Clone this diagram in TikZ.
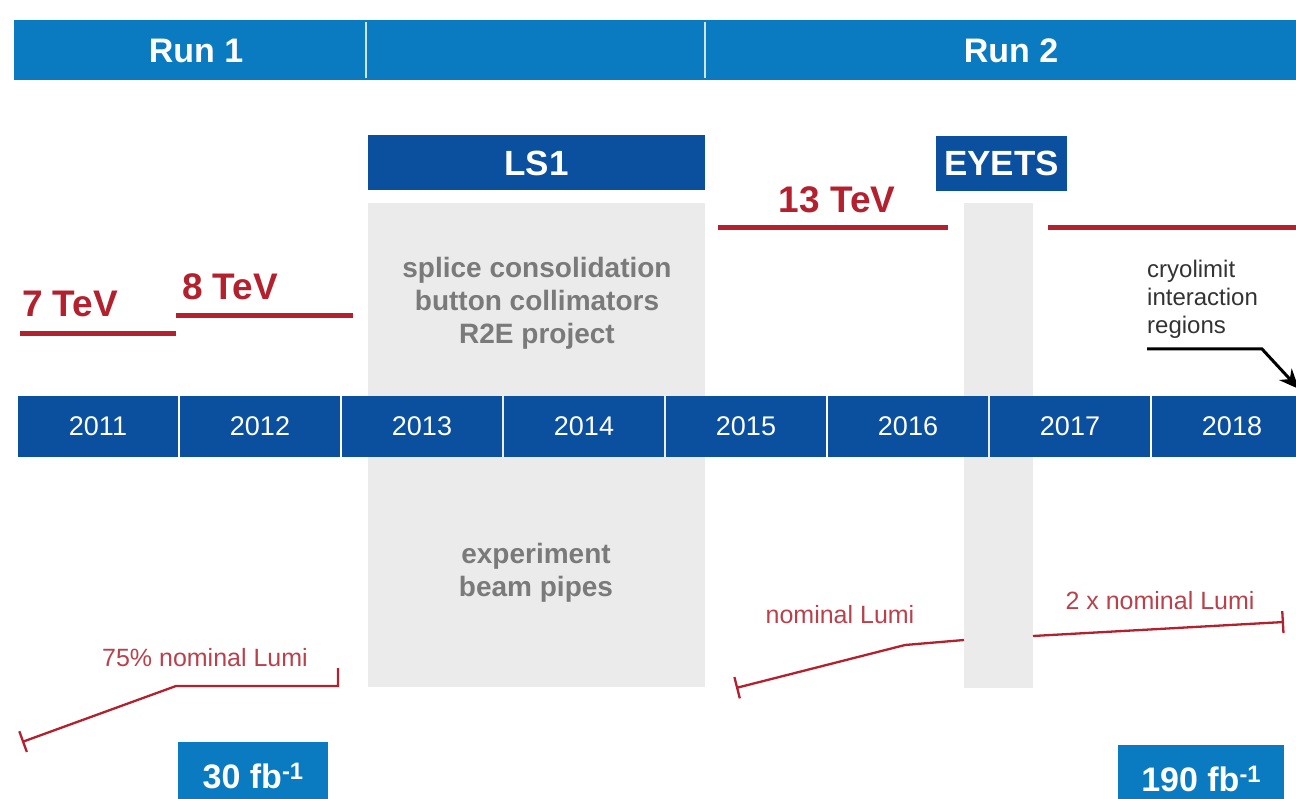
\documentclass[tikz,border=0pt]{standalone}
\usepackage{fontspec}
\setmainfont{Liberation Sans}
\usepackage{tikz}
\usetikzlibrary{positioning,calc,arrows.meta}
\definecolor{runc}{HTML}{0A7BC1}
\definecolor{yearc}{HTML}{0B4F9F}
\definecolor{tevc}{HTML}{B3202E}
\definecolor{lumic}{HTML}{B8414C}
\definecolor{shutc}{HTML}{EBEBEB}
\definecolor{notec}{HTML}{7A7A7A}

\begin{document}
\begin{tikzpicture}[x=1pt, y=-1pt, inner sep=0pt,
    yearbox/.style={fill=yearc, text=white, minimum width=160pt, minimum height=61pt, font=\fontsize{27}{27}\selectfont},
    runlabel/.style={text=white, font=\fontsize{34}{34}\selectfont\bfseries},
    stopbox/.style={fill=yearc, text=white, minimum height=55pt, font=\fontsize{35}{35}\selectfont\bfseries},
    tevlabel/.style={text=tevc, font=\fontsize{37}{37}\selectfont\bfseries},
    tevline/.style={tevc, line width=5pt},
    worklabel/.style={text=notec, align=center, font=\fontsize{28}{33}\selectfont\bfseries},
    lumilabel/.style={text=lumic, font=\fontsize{25}{25}\selectfont},
    lumiline/.style={tevc, line width=2.3pt},
    fbbox/.style={fill=runc, text=white, anchor=north west, minimum height=68pt, font=\fontsize{34}{34}\selectfont\bfseries}]
  \useasboundingbox (0,0) rectangle (1296,799);
  % run bar
  \fill[runc] (14,20) rectangle (1310,80);
  \draw[white!80!runc, line width=1.5pt] (366,22) -- (366,78) (705,22) -- (705,78);
  \node[runlabel] (run1) at (196,51) {Run 1};
  \node[runlabel] (run2) at (1011,51) {Run 2};
  % shutdown periods
  \fill[shutc] (368,203) rectangle (705,687);
  \fill[shutc] (964,203) rectangle (1033,688);
  \node[stopbox, minimum width=337pt] (ls1) at (536.5,163) {LS1};
  \node[stopbox, minimum width=131pt] (eyets) at (1001.5,163.5) {EYETS};
  \node[worklabel] (ls1work) at (537,303) {splice consolidation\\button collimators\\R2E project};
  \node[worklabel] (ls1exp) at (536,573) {experiment\\beam pipes};
  % years
  \foreach \i/\y in {0/2011,1/2012,2/2013,3/2014,4/2015,5/2016,6/2017,7/2018}
     \node[yearbox] (y\y) at (98+162*\i,426.5) {\y};
  % beam energies
  \node[tevlabel] (tev7) at (70,304) {7 TeV};
  \node[tevlabel] (tev8) at (230,287) {8 TeV};
  \node[tevlabel] (tev13) at (837,200) {13 TeV};
  \draw[tevline] (20,334) -- (176,334);
  \draw[tevline] (176,316) -- (353,316);
  \draw[tevline] (718,228) -- (948,228);
  \draw[tevline] (1048,228) -- (1300,228);
  % luminosity
  \node[lumilabel] (lumi75) at (205,658) {75\% nominal Lumi};
  \node[lumilabel] (lumi1) at (840,615) {nominal Lumi};
  \node[lumilabel] (lumi2) at (1160,601) {2 x nominal Lumi};
  \coordinate (l75a) at (22,742);
  \coordinate (l75b) at (176,686);
  \coordinate (l75c) at (338,686);
  \draw[lumiline, {Bar[width=22pt]}-] (l75a) -- (l75b) -- (l75c) -- ++(0,-18);
  \coordinate (l1a) at (736,688);
  \coordinate (l1b) at (905,645);
  \coordinate (l1c) at (964,640);
  \draw[lumiline, {Bar[width=22pt]}-] (l1a) -- (l1b) -- (l1c);
  \coordinate (l2a) at (1033,636);
  \coordinate (l2b) at (1284,622);
  \draw[lumiline, -{Bar[width=22pt]}] (l2a) -- (l2b);
  % cryo note
  \node[anchor=south west, align=left, inner ysep=10pt, text=black!80, font=\fontsize{24}{28}\selectfont] (cryo) at (1147,349) {cryolimit\\interaction\\regions};
  \coordinate (cryobend) at (1262,349);
  \coordinate (cryotip) at (1299,389);
  \draw[line width=3pt, -{Stealth[length=20pt, width=17pt]}] (cryo.south west) -- (cryobend) -- (cryotip);
  % integrated luminosity
  \node[fbbox, minimum width=150pt] (fb30) at (178,742) {30 fb\textsuperscript{-1}};
  \node[fbbox, minimum width=166pt] (fb190) at (1118,745) {190 fb\textsuperscript{-1}};
\end{tikzpicture}
\end{document}
